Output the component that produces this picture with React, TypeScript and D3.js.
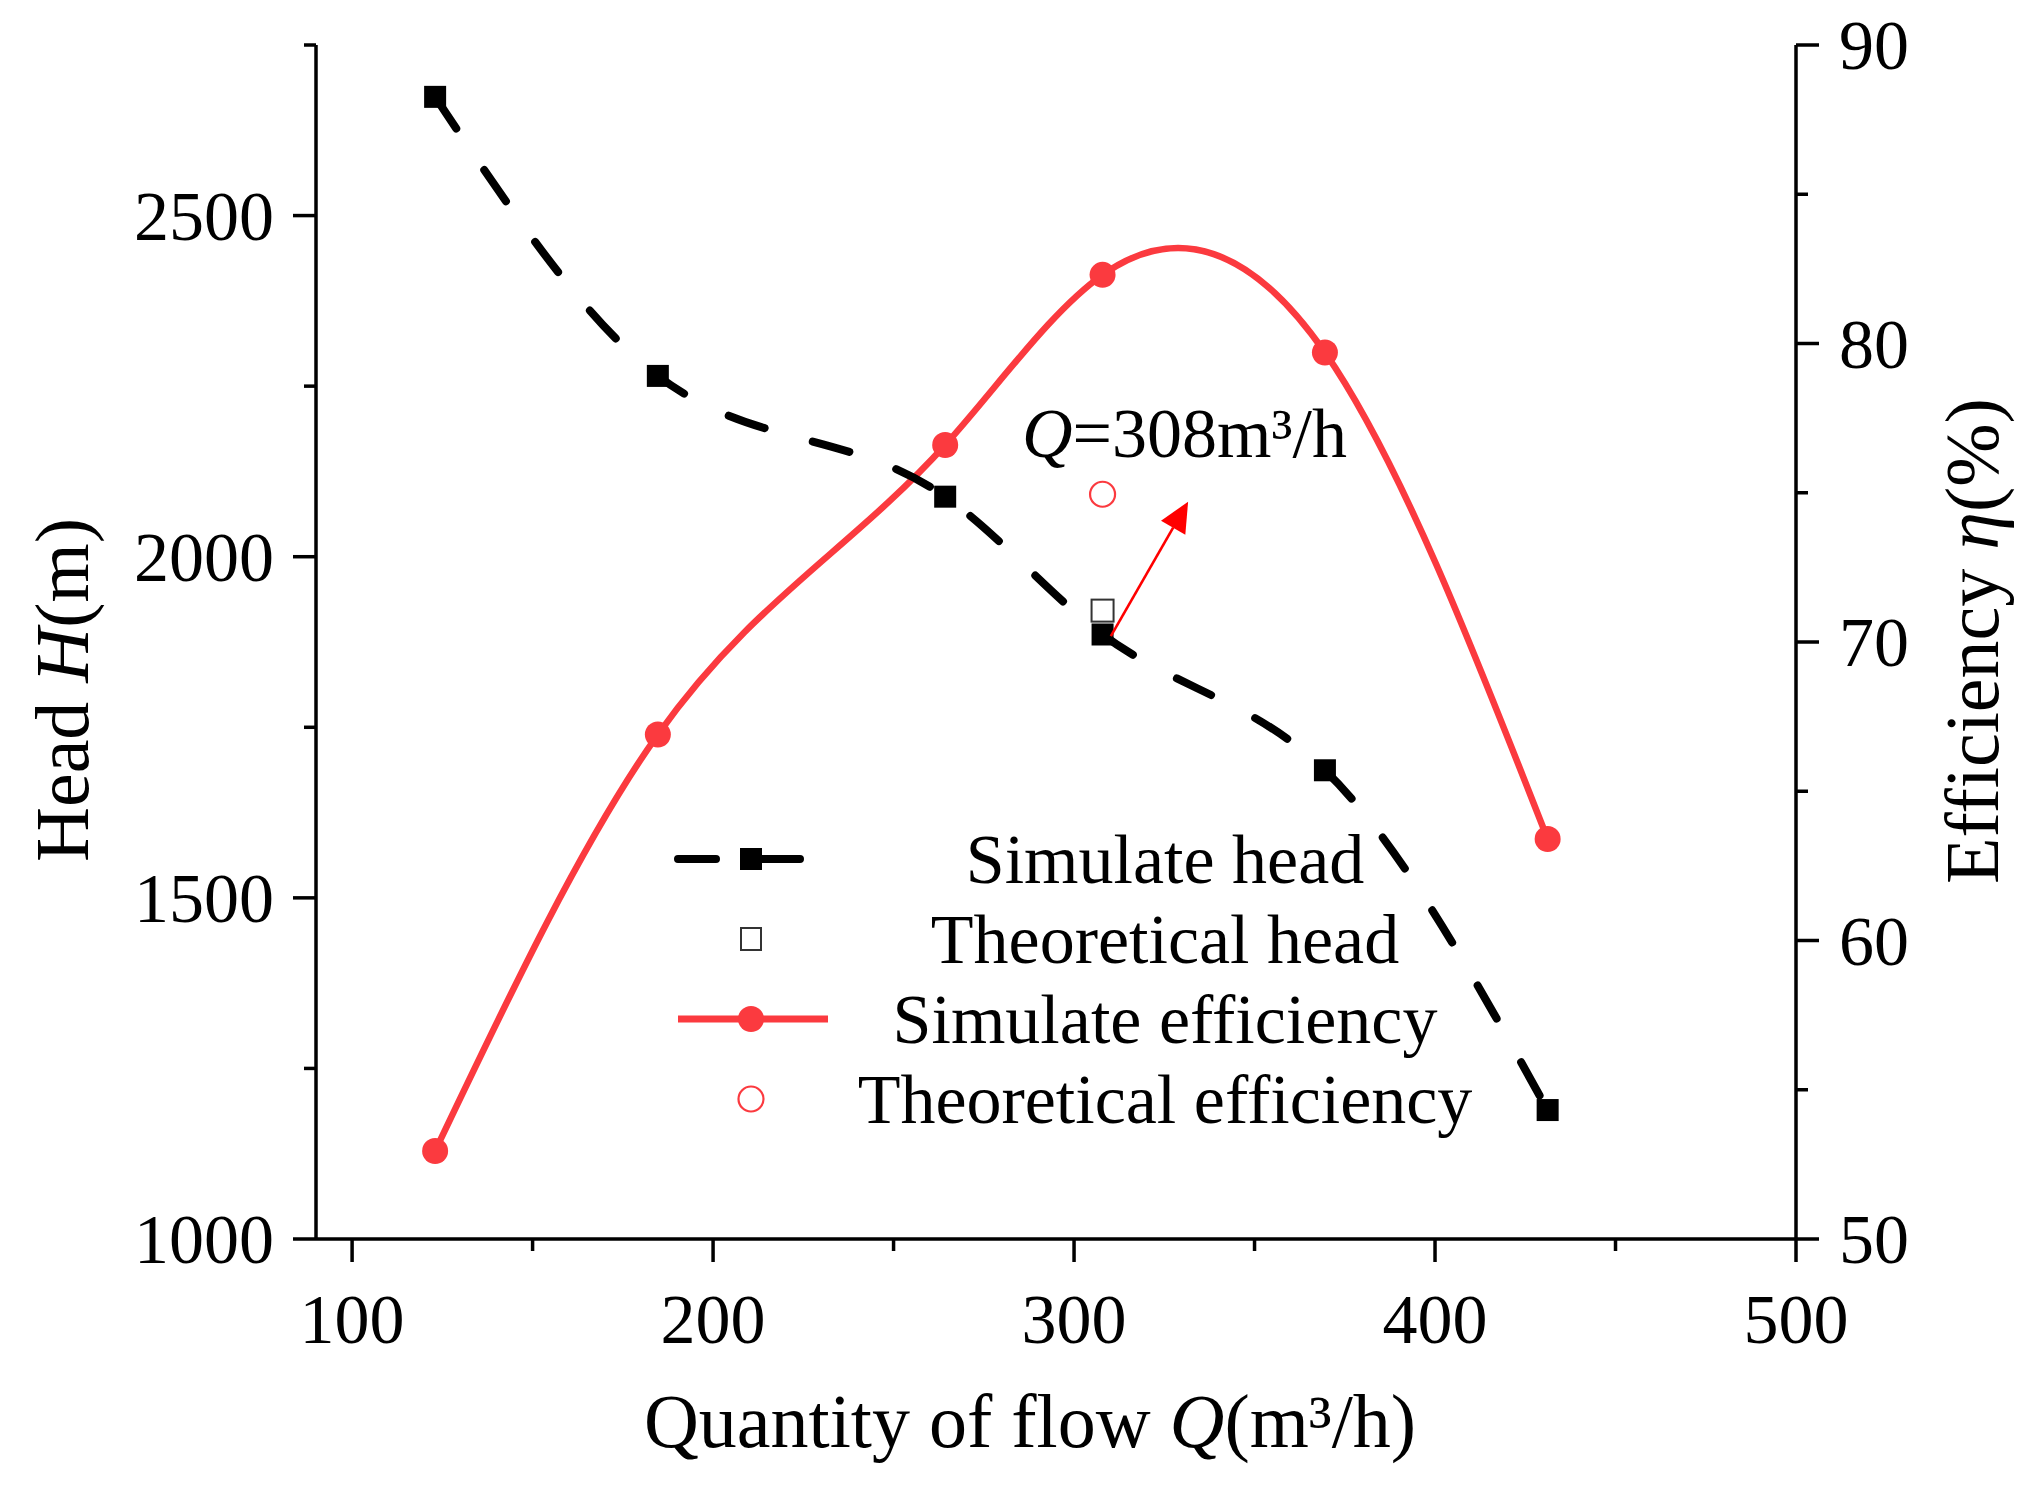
import * as d3 from "d3";
import { useEffect, useRef } from "react";

// Pump performance: flow Q (m³/h) vs head H (m) and efficiency η (%)
const flow = [123, 184.7, 264.3, 307.9, 369.5, 431.2];
const simHead = [2674, 2265, 2088, 1886, 1687, 1189];
const simEff = [52.95, 66.9, 76.6, 82.3, 79.7, 63.4];

const theoFlow = [307.9];
const theoHead = [1921];
const theoEff = [74.95];

const xTicks = [100, 200, 300, 400, 500];
const headTicks = [1000, 1500, 2000, 2500];
const effTicks = [50, 60, 70, 80, 90];

const legendItems = ["Simulate head", "Theoretical head", "Simulate efficiency", "Theoretical efficiency"];

// annotation arrow, in data units (Q, η)
const arrowFrom = [310.2, 70.2];
const arrowTo = [331.6, 74.7];

const W = 2041;
const H = 1490;
const RED = "#fb3a3f";
const FONT = "'Liberation Serif', 'Times New Roman', serif";

// cubic spline y(x) like Origin's "Spline" connection, as a d3 curve factory
function curveSplineX(context: any) {
  let xs: number[] = [];
  let ys: number[] = [];
  return {
    areaStart() {},
    areaEnd() {},
    lineStart() {
      xs = [];
      ys = [];
    },
    point(x: number, y: number) {
      xs.push(+x);
      ys.push(+y);
    },
    lineEnd() {
      const n = xs.length - 1;
      if (n < 1) return;
      const h = d3.range(n).map((i) => xs[i + 1] - xs[i]);
      const M = new Array(n + 1).fill(0);
      if (n > 1) {
        // tridiagonal solve, natural ends
        const a: number[] = [];
        const b: number[] = [];
        const c: number[] = [];
        const r: number[] = [];
        for (let i = 1; i < n; i++) {
          a.push(h[i - 1]);
          b.push(2 * (h[i - 1] + h[i]));
          c.push(h[i]);
          r.push(6 * ((ys[i + 1] - ys[i]) / h[i] - (ys[i] - ys[i - 1]) / h[i - 1]));
        }
        const m = b.length;
        for (let i = 1; i < m; i++) {
          const w = a[i] / b[i - 1];
          b[i] -= w * c[i - 1];
          r[i] -= w * r[i - 1];
        }
        const sol = new Array(m).fill(0);
        sol[m - 1] = r[m - 1] / b[m - 1];
        for (let i = m - 2; i >= 0; i--) sol[i] = (r[i] - c[i] * sol[i + 1]) / b[i];
        for (let i = 1; i < n; i++) M[i] = sol[i - 1];
      }
      const slope = d3.range(n + 1).map((i) =>
        i < n
          ? (ys[i + 1] - ys[i]) / h[i] - (h[i] * (2 * M[i] + M[i + 1])) / 6
          : (ys[n] - ys[n - 1]) / h[n - 1] + (h[n - 1] * (M[n - 1] + 2 * M[n])) / 6,
      );
      context.moveTo(xs[0], ys[0]);
      for (let i = 0; i < n; i++) {
        const d = h[i] / 3;
        context.bezierCurveTo(
          xs[i] + d,
          ys[i] + slope[i] * d,
          xs[i + 1] - d,
          ys[i + 1] - slope[i + 1] * d,
          xs[i + 1],
          ys[i + 1],
        );
      }
    },
  };
}

export default function App() {
  const svgRef = useRef<SVGSVGElement>(null);

  useEffect(() => {
    if (!svgRef.current) return;
    const svg = d3.select(svgRef.current);
    svg.selectAll("*").remove();

    const left = 316;
    const right = 1796;
    const top = 45;
    const bottom = 1239;

    const x = d3.scaleLinear().domain([90, 500]).range([left, right]);
    const yH = d3.scaleLinear().domain([1000, 2750]).range([bottom, top]);
    const yE = d3.scaleLinear().domain([50, 90]).range([bottom, top]);

    const g = svg.append("g");

    // axes lines
    const axes = g.append("g").attr("stroke", "#000").attr("stroke-width", 3.5).attr("fill", "none");
    axes.append("line").attr("x1", left).attr("x2", right).attr("y1", bottom).attr("y2", bottom);
    axes.append("line").attr("x1", left).attr("x2", left).attr("y1", top).attr("y2", bottom);
    axes.append("line").attr("x1", right).attr("x2", right).attr("y1", top).attr("y2", bottom);

    const major = 23;
    const minor = 12;

    // x ticks
    d3.range(100, 501, 50).forEach((v) => {
      const len = v % 100 === 0 ? major : minor;
      axes.append("line").attr("x1", x(v)).attr("x2", x(v)).attr("y1", bottom).attr("y2", bottom + len);
    });
    // left ticks
    d3.range(1000, 2751, 250).forEach((v) => {
      const len = v % 500 === 0 ? major : minor;
      axes.append("line").attr("x1", left - len).attr("x2", left).attr("y1", yH(v)).attr("y2", yH(v));
    });
    // right ticks
    d3.range(50, 91, 5).forEach((v) => {
      const len = v % 10 === 0 ? major : minor;
      axes.append("line").attr("x1", right).attr("x2", right + len).attr("y1", yE(v)).attr("y2", yE(v));
    });

    const tickFont = 70;
    g.append("g")
      .selectAll("text")
      .data(xTicks)
      .join("text")
      .attr("x", (d) => x(d))
      .attr("y", 1343)
      .attr("text-anchor", "middle")
      .attr("font-size", tickFont)
      .text((d) => d);

    g.append("g")
      .selectAll("text")
      .data(headTicks)
      .join("text")
      .attr("x", 274)
      .attr("y", (d) => yH(d) + 24)
      .attr("text-anchor", "end")
      .attr("font-size", tickFont)
      .text((d) => d);

    g.append("g")
      .selectAll("text")
      .data(effTicks)
      .join("text")
      .attr("x", 1839)
      .attr("y", (d) => yE(d) + 24)
      .attr("text-anchor", "start")
      .attr("font-size", tickFont)
      .text((d) => d);

    // axis titles
    const titleFont = 76;
    const xt = g
      .append("text")
      .attr("x", 1030)
      .attr("y", 1447)
      .attr("text-anchor", "middle")
      .attr("font-size", titleFont);
    xt.append("tspan").text("Quantity of flow ");
    xt.append("tspan").attr("font-style", "italic").text("Q");
    xt.append("tspan").text("(m³/h)");

    const yt = g
      .append("text")
      .attr("transform", "translate(88,690) rotate(-90)")
      .attr("text-anchor", "middle")
      .attr("font-size", titleFont);
    yt.append("tspan").text("Head ");
    yt.append("tspan").attr("font-style", "italic").text("H");
    yt.append("tspan").text("(m)");

    const rt = g
      .append("text")
      .attr("transform", "translate(1998,641) rotate(-90)")
      .attr("text-anchor", "middle")
      .attr("font-size", titleFont);
    rt.append("tspan").text("Efficiency ");
    rt.append("tspan").attr("font-style", "italic").text("η");
    rt.append("tspan").text("(%)");

    const idx = d3.range(flow.length);

    // simulate efficiency curve
    const effLine = d3
      .line<number>()
      .x((i) => x(flow[i]))
      .y((i) => yE(simEff[i]))
      .curve(curveSplineX as any);
    g.append("path")
      .attr("d", effLine(idx) || "")
      .attr("fill", "none")
      .attr("stroke", RED)
      .attr("stroke-width", 6.5);
    g.append("g")
      .selectAll("circle")
      .data(idx)
      .join("circle")
      .attr("cx", (i) => x(flow[i]))
      .attr("cy", (i) => yE(simEff[i]))
      .attr("r", 13)
      .attr("fill", RED);

    // simulate head curve
    const headLine = d3
      .line<number>()
      .x((i) => x(flow[i]))
      .y((i) => yH(simHead[i]))
      .curve(curveSplineX as any);
    g.append("path")
      .attr("d", headLine(idx) || "")
      .attr("fill", "none")
      .attr("stroke", "#000")
      .attr("stroke-width", 8)
      .attr("stroke-linecap", "round")
      .attr("stroke-dasharray", "38,50");
    g.append("g")
      .selectAll("rect")
      .data(idx)
      .join("rect")
      .attr("x", (i) => x(flow[i]) - 11)
      .attr("y", (i) => yH(simHead[i]) - 11)
      .attr("width", 22)
      .attr("height", 22)
      .attr("fill", "#000");

    // theoretical points
    g.append("g")
      .selectAll("rect")
      .data(theoFlow)
      .join("rect")
      .attr("x", (d) => x(d) - 11)
      .attr("y", (_, i) => yH(theoHead[i]) - 11)
      .attr("width", 22)
      .attr("height", 22)
      .attr("fill", "#fff")
      .attr("stroke", "#333")
      .attr("stroke-width", 2);
    g.append("g")
      .selectAll("circle")
      .data(theoFlow)
      .join("circle")
      .attr("cx", (d) => x(d))
      .attr("cy", (_, i) => yE(theoEff[i]))
      .attr("r", 12.5)
      .attr("fill", "none")
      .attr("stroke", RED)
      .attr("stroke-width", 2.2);

    // annotation arrow
    const ax1 = x(arrowFrom[0]);
    const ay1 = yE(arrowFrom[1]);
    const ax2 = x(arrowTo[0]);
    const ay2 = yE(arrowTo[1]);
    const ang = Math.atan2(ay2 - ay1, ax2 - ax1);
    const headLen = 30;
    const headW = 14;
    const bx = ax2 - headLen * Math.cos(ang);
    const by = ay2 - headLen * Math.sin(ang);
    g.append("line")
      .attr("x1", ax1)
      .attr("y1", ay1)
      .attr("x2", bx)
      .attr("y2", by)
      .attr("stroke", "#ff0000")
      .attr("stroke-width", 2.6);
    g.append("path")
      .attr(
        "d",
        `M${ax2},${ay2}L${bx + headW * Math.sin(ang)},${by - headW * Math.cos(ang)}L${bx - headW * Math.sin(ang)},${by + headW * Math.cos(ang)}Z`,
      )
      .attr("fill", "#ff0000");

    const ann = g.append("text").attr("x", 1022).attr("y", 457).attr("font-size", 70);
    ann.append("tspan").attr("font-style", "italic").text("Q");
    ann.append("tspan").text("=308m³/h");

    // legend
    const lg = g.append("g");
    const rowY = [859, 939, 1019, 1099];
    const symX = 751;
    legendItems.forEach((label, i) => {
      const yy = rowY[i];
      if (i === 0) {
        lg.append("line")
          .attr("x1", 678)
          .attr("x2", 805)
          .attr("y1", yy)
          .attr("y2", yy)
          .attr("stroke", "#000")
          .attr("stroke-width", 8)
          .attr("stroke-linecap", "round")
          .attr("stroke-dasharray", "38,46");
        lg.append("rect").attr("x", symX - 11).attr("y", yy - 11).attr("width", 22).attr("height", 22).attr("fill", "#000");
      } else if (i === 1) {
        lg.append("rect")
          .attr("x", symX - 10)
          .attr("y", yy - 11)
          .attr("width", 20)
          .attr("height", 22)
          .attr("fill", "#fff")
          .attr("stroke", "#333")
          .attr("stroke-width", 2);
      } else if (i === 2) {
        lg.append("line")
          .attr("x1", 678)
          .attr("x2", 828)
          .attr("y1", yy)
          .attr("y2", yy)
          .attr("stroke", RED)
          .attr("stroke-width", 7);
        lg.append("circle").attr("cx", symX).attr("cy", yy).attr("r", 13).attr("fill", RED);
      } else {
        lg.append("circle")
          .attr("cx", symX)
          .attr("cy", yy)
          .attr("r", 12.5)
          .attr("fill", "none")
          .attr("stroke", RED)
          .attr("stroke-width", 2.2);
      }
      lg.append("text")
        .attr("x", 1165)
        .attr("y", yy + 24)
        .attr("text-anchor", "middle")
        .attr("font-size", 70)
        .text(label);
    });
  }, []);

  return (
    <svg
      ref={svgRef}
      width={W}
      height={H}
      viewBox={`0 0 ${W} ${H}`}
      style={{ position: "fixed", left: 0, top: 0, background: "#fff", fontFamily: FONT }}
    />
  );
}
